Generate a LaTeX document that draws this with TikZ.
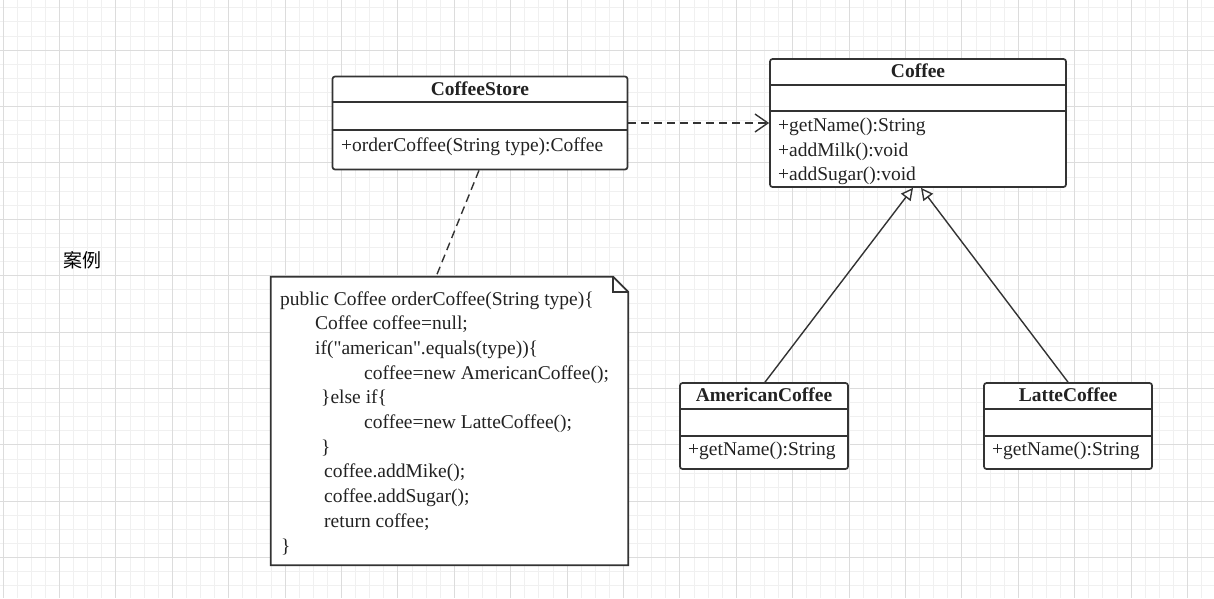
\documentclass[tikz,border=0pt]{standalone}
\usepackage{fontspec}
\setmainfont{Liberation Serif}
\newfontfamily\codefont{Liberation Serif}
\newfontfamily\cjkfont{Noto Sans CJK SC}
\usetikzlibrary{arrows.meta,calc}

\definecolor{lineclr}{HTML}{333333}
\definecolor{textclr}{HTML}{222222}
\definecolor{gridminor}{HTML}{F0F0F0}
\definecolor{gridmajor}{HTML}{DCDCDC}

\tikzset{
  classbox/.style={draw=lineclr, line width=1.7pt, rounded corners=2.5pt, fill=white, inner sep=0pt},
  classsep/.style={draw=lineclr, line width=1.7pt},
  classtitle/.style={font=\fontsize{19.5}{24}\selectfont\bfseries, text=textclr, anchor=base, inner sep=0pt},
  member/.style={font=\fontsize{19.5}{24}\selectfont, text=textclr, anchor=base west, inner sep=0pt},
  codeline/.style={member, font=\codefont\fontsize{19.5}{24}\selectfont},
  depend/.style={draw=lineclr, line width=1.4pt, dash pattern=on 8pt off 5pt, -{Straight Barb[length=13pt,width=18pt]}},
  inherit/.style={draw=lineclr, line width=1.4pt, -{Triangle[open,length=12pt,width=12pt,fill=white]}},
  notelink/.style={draw=lineclr, line width=1.4pt, dash pattern=on 8pt off 5pt},
}

\begin{document}
\begin{tikzpicture}[x=1pt,y=-1pt]
\useasboundingbox (0,0) rectangle (1214,598);
\fill[white] (0,0) rectangle (1214,598);
% grid
\foreach \i in {0,...,86} {\draw[gridminor, line width=0.8pt] ({3+14.1*\i},0) -- ({3+14.1*\i},598);}
\foreach \i in {0,...,42} {\draw[gridminor, line width=0.8pt] (0,{7.7+14.1*\i}) -- (1214,{7.7+14.1*\i});}
\foreach \i in {0,...,21} {\draw[gridmajor, line width=0.9pt] ({3+56.4*\i},0) -- ({3+56.4*\i},598);}
\foreach \i in {0,...,9} {\draw[gridmajor, line width=0.9pt] (0,{50+56.4*\i}) -- (1214,{50+56.4*\i});}

\node[font=\cjkfont\fontsize{19}{22}\selectfont, text=black] (label) at (82,260) {案例};

% classes
\node[classbox, minimum width=295pt, minimum height=93pt] (store) at (480,123) {};
\node[classbox, minimum width=296pt, minimum height=128pt] (coffee) at (918,123) {};
\node[classbox, minimum width=168pt, minimum height=86pt] (american) at (764,426) {};
\node[classbox, minimum width=168pt, minimum height=86pt] (latte) at (1068,426) {};

\foreach \c/\a/\b in {store/26/54, coffee/27/53, american/27/54, latte/27/54} {
  \draw[classsep] ($(\c.north west)+(0,\a)$) -- ($(\c.north east)+(0,\a)$);
  \draw[classsep] ($(\c.north west)+(0,\b)$) -- ($(\c.north east)+(0,\b)$);
}

\node[classtitle] (storename) at ($(store.north)+(0,19.7)$) {CoffeeStore};
\node[classtitle] (coffeename) at ($(coffee.north)+(0,19.3)$) {Coffee};
\node[classtitle] (americanname) at ($(american.north)+(0,19.3)$) {AmericanCoffee};
\node[classtitle] (lattename) at ($(latte.north)+(0,19.3)$) {LatteCoffee};

\node[member] (storeop) at (341,151) {+orderCoffee(String type):Coffee};
\node[member] (coffeeop1) at (778,131.5) {+getName():String};
\node[member] (coffeeop2) at (778,156) {+addMilk():void};
\node[member] (coffeeop3) at (778,180.7) {+addSugar():void};
\node[member] (americanop) at (688,455.5) {+getName():String};
\node[member] (latteop) at (992,455.5) {+getName():String};

% note
\node[inner sep=0pt, minimum width=357pt, minimum height=288pt] (note) at (449.5,421) {};
\draw[lineclr, line width=1.7pt, fill=white] (note.north west) -- ($(note.north east)+(-15,0)$) -- ($(note.north east)+(0,15)$) -- (note.south east) -- (note.south west) -- cycle;
\draw[lineclr, line width=1.7pt] ($(note.north east)+(-15,0)$) -- ($(note.north east)+(-15,15)$) -- ($(note.north east)+(0,15)$);
\foreach \ind/\txt [count=\k] in {280/{public Coffee orderCoffee(String type)\{},
    315/{Coffee coffee=null;},
    315/{if("american".equals(type))\{},
    364/{coffee=new AmericanCoffee();},
    321/{\}else if\{},
    364/{coffee=new LatteCoffee();},
    321/{\}},
    324/{coffee.addMike();},
    324/{coffee.addSugar();},
    324/{return coffee;},
    281/{\}}}
  \node[codeline] (code\k) at (\ind,{305+24.7*(\k-1)}) {\txt};

% connectors
\coordinate (notetop) at ($(note.north)+(-13.5,0)$);
\coordinate (coffeeL) at ($(coffee.south)+(-5,0)$);
\coordinate (coffeeR) at ($(coffee.south)+(3,0)$);
\draw[depend] (store) -- (coffee);
\draw[notelink] ($(store.south)+(-1,0)$) -- (notetop);
\draw[inherit] ($(american.north)+(1,0)$) -- (coffeeL);
\draw[inherit] (latte.north) -- (coffeeR);
\end{tikzpicture}
\end{document}
